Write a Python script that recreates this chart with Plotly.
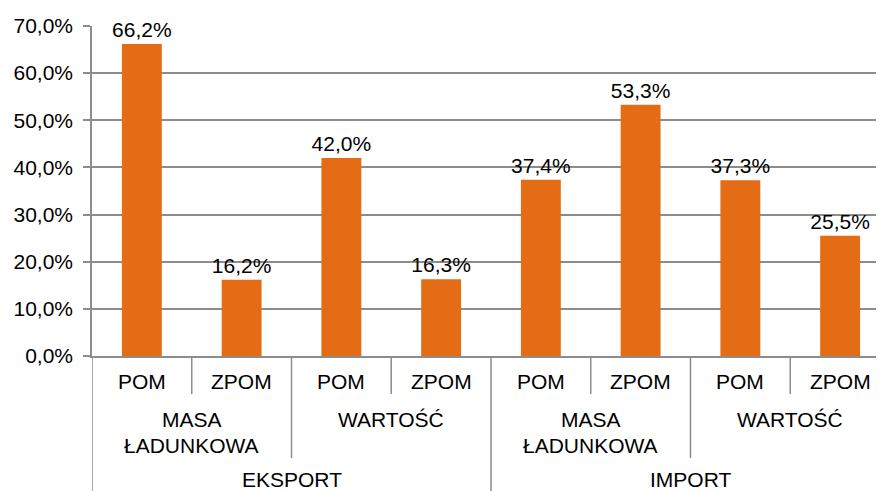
import plotly.graph_objects as go

level1 = ["POM", "ZPOM", "POM", "ZPOM", "POM", "ZPOM", "POM", "ZPOM"]
level2 = ["MASA<br>ŁADUNKOWA", "WARTOŚĆ", "MASA<br>ŁADUNKOWA", "WARTOŚĆ"]
level3 = ["EKSPORT", "IMPORT"]
values = [0.662, 0.162, 0.420, 0.163, 0.374, 0.533, 0.373, 0.255]
yticks = [0.0, 0.1, 0.2, 0.3, 0.4, 0.5, 0.6, 0.7]

ORANGE = "#E46C14"
GRID = "#8c8c8c"
FONT = "Liberation Sans, Arial, sans-serif"
FS = 21

x = list(range(len(values)))

fig = go.Figure(go.Bar(
    x=x, y=values, width=0.4, marker=dict(color=ORANGE, line=dict(width=0)),
    texttemplate="%{y:.1%}", textposition="outside", cliponaxis=False,
    constraintext="none",
    textfont=dict(size=FS, color="#000000", family=FONT),
))

plot_h = 330.0
def py(pix):
    return -pix / plot_h

shapes = []
annotations = []
for i, lab in enumerate(level1):
    annotations.append(dict(x=i, y=py(25), xref="x", yref="paper", text=lab,
                            yanchor="middle", showarrow=False,
                            font=dict(size=FS, family=FONT, color="#000")))
for i in range(len(level1) + 1):
    b = i - 0.5
    if i % 4 == 0:
        end = py(145)
    elif i % 2 == 0:
        end = py(102)
    else:
        end = py(38)
    shapes.append(dict(type="line", xref="x", yref="paper", x0=b, x1=b, y0=0, y1=end,
                       line=dict(color=GRID, width=1.5)))
for j, lab in enumerate(level2):
    for k, line in enumerate(lab.split("<br>")):
        annotations.append(dict(x=2 * j + 0.5, y=py(63 + 26 * k), xref="x", yref="paper",
                                text=line, yanchor="middle", showarrow=False,
                                font=dict(size=FS, family=FONT, color="#000")))
for k, lab in enumerate(level3):
    annotations.append(dict(x=4 * k + 1.5, y=py(123), xref="x", yref="paper", text=lab,
                            yanchor="middle", showarrow=False,
                            font=dict(size=FS, family=FONT, color="#000")))

# page body has an 8px default margin; compensate so plot area sits where the reference has it
fig.update_layout(
    width=876, height=483,
    margin=dict(l=84, r=0, t=18, b=135, autoexpand=False),
    plot_bgcolor="white", paper_bgcolor="white",
    separators=", ",
    showlegend=False,
    shapes=shapes,
    annotations=annotations,
    font=dict(family=FONT, size=FS, color="#000"),
    xaxis=dict(range=[-0.5, 7.44], showticklabels=False, showgrid=False, zeroline=False,
               showline=True, linecolor=GRID, linewidth=1.5, ticks="", automargin=False),
    yaxis=dict(range=[0, 0.7], tickvals=yticks, tickformat=".1%", showgrid=True,
               gridcolor=GRID, gridwidth=1.5, zeroline=False, showline=True,
               linecolor=GRID, linewidth=1.5, ticks="outside", ticklen=7,
               tickcolor=GRID, tickwidth=1.5, automargin=False,
               ticklabelstandoff=6,
               tickfont=dict(size=FS, family=FONT, color="#000")),
)

fig.write_html("out.html")
